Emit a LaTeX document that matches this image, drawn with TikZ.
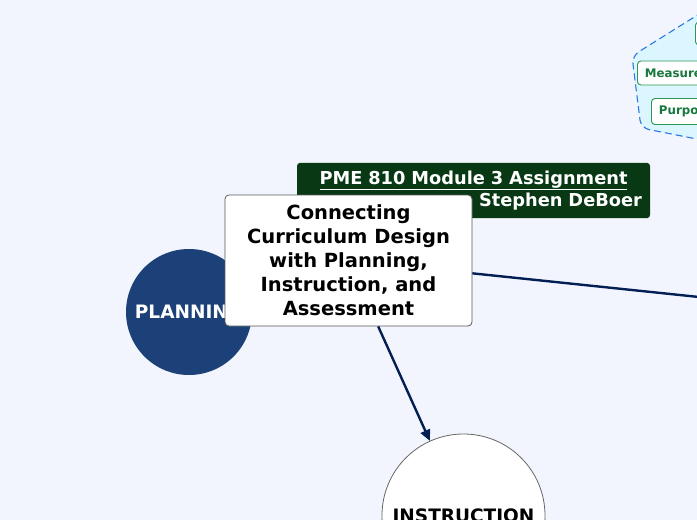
\documentclass[tikz,border=0pt]{standalone}
\usepackage{fontspec}
\setmainfont{DejaVu Sans}
\usepackage{tikz}
\usetikzlibrary{arrows.meta}

\definecolor{bgcol}{RGB}{242,245,254}
\definecolor{planblue}{RGB}{27,65,120}
\definecolor{linenavy}{RGB}{2,30,82}
\definecolor{titlegreen}{RGB}{9,56,20}
\definecolor{cloudfill}{RGB}{220,246,255}
\definecolor{clouddash}{RGB}{40,120,230}
\definecolor{leafline}{RGB}{45,150,85}
\definecolor{leaftext}{RGB}{22,120,60}

\tikzset{
	mainbox/.style={draw=black!65, line width=0.8pt, fill=white, rounded corners=4pt, inner sep=0pt, minimum width=247pt, minimum height=131pt, align=center, font=\bfseries\fontsize{19.5}{24}\selectfont},
	titlebox/.style={fill=titlegreen, rounded corners=3pt, inner sep=8pt, minimum height=53pt, text width=337pt, align=center, text=white, font=\bfseries\fontsize{17.8}{22}\selectfont},
	topic/.style={circle, inner sep=0pt, font=\bfseries\fontsize{18.5}{22}\selectfont},
	leaf/.style={draw=leafline, line width=0.9pt, fill=white, rounded corners=3.5pt, anchor=west, inner sep=7.5pt, text=leaftext, font=\bfseries\fontsize{11.8}{14}\selectfont},
	link/.style={draw=linenavy, line width=2.4pt},
}

\begin{document}
\begin{tikzpicture}[x=1pt, y=-1pt]
			\useasboundingbox (0,0) rectangle (697,520);
			\clip (0,0) rectangle (697,520);
			\fill[bgcol] (0,0) rectangle (697,520);

				% floating group, top right
				\draw[draw=clouddash, fill=cloudfill, line width=1.1pt, dash pattern=on 7pt off 4pt, rounded corners=8pt]
					(712,6) -- (632,56) -- (641,128) -- (712,142);
				\node[leaf, minimum width=40pt, minimum height=23pt] (leaftop) at (695,33.5) {};
				\node[leaf, minimum height=24pt] (measure) at (637,73) {Measure};
				\node[leaf, minimum height=25pt] (purpose) at (651,111.5) {Purpose};

				% main topics
				\node[topic, fill=planblue, text=white, minimum size=126pt] (planning) at (189,312) {PLANNING};
				\node[topic, draw=black!60, line width=0.8pt, fill=white, minimum size=163pt] (instruction) at (463.5,515.5) {INSTRUCTION};
				\coordinate (offright) at (900,318);

				% title and central topic
				\node[titlebox] (title) at (473.5,190.5) {\underline{PME 810 Module 3 Assignment}\\ \hspace*{\fill}Stephen DeBoer};
				\node[mainbox] (central) at (348.5,260.5) {Connecting\\ Curriculum Design\\ with Planning,\\ Instruction, and\\ Assessment};

				\draw[link] (central) -- (offright);
				\draw[link, -{Triangle[length=11pt, width=10pt]}] (central) -- (instruction);

		\end{tikzpicture}
\end{document}
